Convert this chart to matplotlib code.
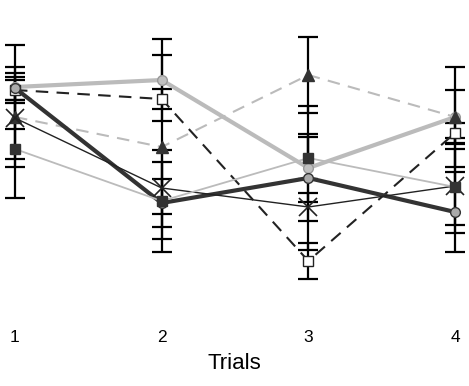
import matplotlib
matplotlib.use('Agg')
import matplotlib.pyplot as plt

plt.rcParams['font.family'] = ['Liberation Sans', 'DejaVu Sans']

trials = [1, 2, 3, 4]
trial_labels = ['1', '2', '3', '4']

# six groups, arbitrary score units (no y axis shown)
a_vals = [20.3, 21.0, 12.2, 17.3]
a_err = [4.2, 4.1, 3.4, 2.7]
b_vals = [20.0, 19.1, 2.9, 15.7]
b_err = [1.0, 1.0, 1.8, 1.0]
c_vals = [17.3, 14.3, 21.5, 17.3]
c_err = [5.0, 9.2, 3.8, 5.0]
d_vals = [20.2, 8.7, 11.2, 7.8]
d_err = [1.5, 2.4, 7.2, 4.0]
e_vals = [17.2, 10.2, 8.3, 10.4]
e_err = [4.1, 2.6, 1.4, 4.75]
f_vals = [14.1, 8.9, 13.2, 10.3]
f_err = [4.9, 5.1, 2.1, 3.8]

fig = plt.figure(figsize=(4.69, 3.86), dpi=100)
ax = fig.add_axes([0, 0.171, 1, 0.829])

dark = '#333333'
light = '#bbbbbb'

series = [
    (a_vals, a_err, dict(color=light, lw=3, ls='-', marker='o', ms=7, mfc='#c0c0c0', mec='#999999')),
    (b_vals, b_err, dict(color='#222222', lw=1.5, ls=(0, (6, 4)), marker='s', ms=6.5, mfc='white', mec='#222222')),
    (c_vals, c_err, dict(color=light, lw=1.5, ls=(0, (6, 4)), marker='^', ms=8, mfc=dark, mec=dark)),
    (d_vals, d_err, dict(color=dark, lw=3, ls='-', marker='o', ms=7, mfc='#aaaaaa', mec=dark)),
    (e_vals, e_err, dict(color='#222222', lw=1, ls='-', marker='x', ms=13, mew=1.2, mec='#222222')),
    (f_vals, f_err, dict(color=light, lw=1.3, ls='-', marker='s', ms=7, mfc=dark, mec=dark)),
]

for vals, err, style in series:
    ax.errorbar(trials, vals, yerr=err, fmt='none', ecolor='black', elinewidth=1.6,
                capsize=7, capthick=1.6, zorder=2)

for vals, err, style in series:
    ax.plot(trials, vals, zorder=3, **style)

ax.set_xlim(0.898, 4.095)
ax.set_ylim(-3, 29)
ax.set_xticks(trials)
ax.set_xticklabels(trial_labels, fontsize=12.5)
ax.tick_params(axis='x', length=0, pad=7)
ax.set_yticks([])
for s in ax.spines.values():
    s.set_visible(False)
ax.set_xlabel('Trials', fontsize=16, labelpad=6)

fig.savefig('out.png', dpi=100)
